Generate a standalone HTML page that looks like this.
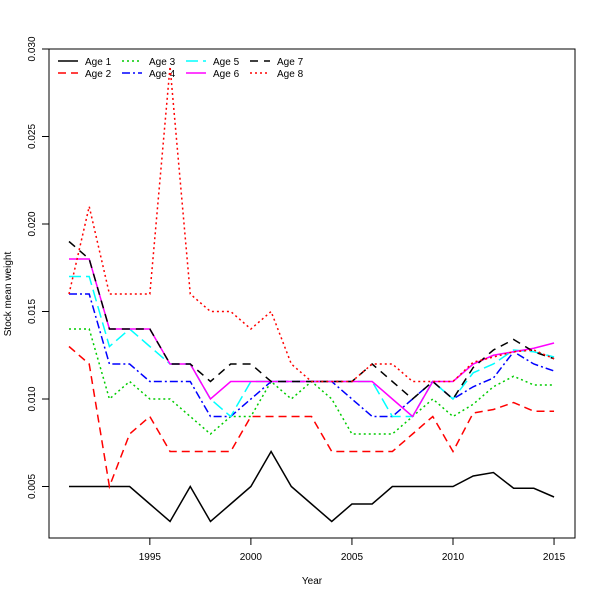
<!DOCTYPE html>
<html><head><meta charset="utf-8"><style>body{margin:0;background:#fff}svg{display:block;font-family:"Liberation Sans","DejaVu Sans",sans-serif}</style></head>
<body>
<svg id="c" width="600" height="600"></svg>
<script>
const years=[1991,1992,1993,1994,1995,1996,1997,1998,1999,2000,2001,2002,2003,2004,2005,2006,2007,2008,2009,2010,2011,2012,2013,2014,2015];
const age1=[.005,.005,.005,.005,.004,.003,.005,.003,.004,.005,.007,.005,.004,.003,.004,.004,.005,.005,.005,.005,.0056,.0058,.0049,.0049,.0044];
const age2=[.013,.012,.005,.008,.009,.007,.007,.007,.007,.009,.009,.009,.009,.007,.007,.007,.007,.008,.009,.007,.0092,.0094,.0098,.0093,.0093];
const age3=[.014,.014,.010,.011,.010,.010,.009,.008,.009,.009,.011,.010,.011,.010,.008,.008,.008,.009,.010,.009,.0097,.0107,.0113,.0108,.0108];
const age4=[.016,.016,.012,.012,.011,.011,.011,.009,.009,.010,.011,.011,.011,.011,.010,.009,.009,.010,.011,.010,.0107,.0112,.0127,.012,.0116];
const age5=[.017,.017,.013,.014,.013,.012,.012,.010,.009,.011,.011,.011,.011,.011,.011,.011,.009,.009,.011,.010,.0115,.012,.0128,.0127,.0124];
const age6=[.018,.018,.014,.014,.014,.012,.012,.010,.011,.011,.011,.011,.011,.011,.011,.011,.010,.009,.011,.011,.012,.0125,.0127,.0129,.0132];
const age7=[.019,.018,.014,.014,.014,.012,.012,.011,.012,.012,.011,.011,.011,.011,.011,.012,.011,.010,.011,.010,.0118,.0128,.0134,.0127,.0123];
const age8=[.016,.021,.016,.016,.016,.029,.016,.015,.015,.014,.015,.012,.011,.011,.011,.012,.012,.011,.011,.011,.0121,.0124,.0127,.0128,.0123];
const xTicks=[1995,2000,2005,2010,2015];
const yTicks=[0.005,0.010,0.015,0.020,0.025,0.030];
const yLabels=["0.005","0.010","0.015","0.020","0.025","0.030"];
const ns="http://www.w3.org/2000/svg",svg=document.getElementById('c');
const X=y=>69+(y-1991)*20.21, Y=v=>399-(v-0.01)*17500;
function mk(t,a,p){const e=document.createElementNS(ns,t);for(const k in a)e.setAttribute(k,a[k]);(p||svg).appendChild(e);return e;}
const frame=mk('rect',{x:49,y:49,width:526,height:489,fill:'none',stroke:'#000'});


xTicks.forEach(t=>{mk('line',{x1:X(t),x2:X(t),y1:538,y2:545,stroke:'#000'});
const tx=mk('text',{x:X(t),y:560,'font-size':10,'text-anchor':'middle'});tx.textContent=t;

});
yTicks.forEach((t,i)=>{mk('line',{x1:42,x2:49,y1:Y(t),y2:Y(t),stroke:'#000'});
const tx=mk('text',{x:35,y:Y(t),'font-size':10,'text-anchor':'middle',transform:`rotate(-90 35 ${Y(t)})`});tx.textContent=yLabels[i];

});
const xt=mk('text',{x:312,y:584,'font-size':10,'text-anchor':'middle'});xt.textContent='Year';


const yt=mk('text',{x:11,y:294,'font-size':10,'text-anchor':'middle',transform:'rotate(-90 11 294)'});yt.textContent='Stock mean weight';


const series=[[age1,'#000','',"Age 1"],[age2,'#f00','8,5',"Age 2"],[age3,'#0c0','2,3',"Age 3"],[age4,'#00f','8,3,2,3',"Age 4"],[age5,'#0ff','12,5',"Age 5"],[age6,'#f0f','',"Age 6"],[age7,'#000','8,6',"Age 7"],[age8,'#f00','2,3',"Age 8"]];
const lx=[58,58,122,122,186,186,250,250],ly=[61,73,61,73,61,73,61,73];
series.forEach((s,i)=>{
const p=mk('polyline',{points:s[0].map((v,j)=>X(years[j])+','+Y(v)).join(' '),fill:'none',stroke:s[1],'stroke-width':1.5,'stroke-dasharray':s[2]});


const g=mk('g',{});


mk('line',{x1:lx[i],x2:lx[i]+20,y1:ly[i],y2:ly[i],stroke:s[1],'stroke-width':1.5,'stroke-dasharray':s[2]},g);
const t=mk('text',{x:lx[i]+27,y:ly[i]+4,'font-size':10},g);t.textContent=s[3];
});
</script>
</body></html>
